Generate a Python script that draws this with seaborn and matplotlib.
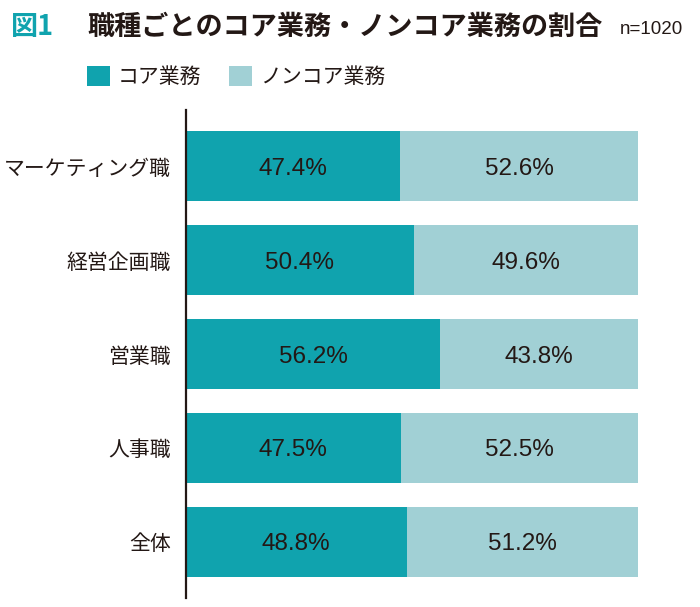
import pandas as pd
import matplotlib
matplotlib.use('Agg')
import matplotlib.pyplot as plt
from matplotlib.patches import Patch
import seaborn as sns

# Data
categories = ['マーケティング職', '経営企画職', '営業職', '人事職', '全体']
core = [47.4, 50.4, 56.2, 47.5, 48.8]
noncore = [52.6, 49.6, 43.8, 52.5, 51.2]
series_names = ['コア業務', 'ノンコア業務']

core_color = '#10A3AE'
noncore_color = '#A1D0D5'

df = pd.DataFrame({'category': categories, 'core': core, 'noncore': noncore})
df['total'] = df['core'] + df['noncore']

sns.set_theme(style='white')
plt.rcParams['font.family'] = ['Noto Sans CJK JP', 'DejaVu Sans']

fig = plt.figure(figsize=(7, 6.07), dpi=100)
ax = fig.add_axes([0.2657, 0.0148, 0.6457, 0.804])

# stacked bars: full length first, core share drawn over it
sns.barplot(data=df, x='total', y='category', orient='h', color=noncore_color,
            width=0.75, saturation=1, linewidth=0, edgecolor='none', ax=ax)
sns.barplot(data=df, x='core', y='category', orient='h', color=core_color,
            width=0.75, saturation=1, linewidth=0, edgecolor='none', ax=ax)

num_font = ['Liberation Sans', 'DejaVu Sans']
for i, (c, n) in enumerate(zip(df['core'], df['noncore'])):
    ax.text(c / 2, i, f'{c:.1f}%', ha='center', va='center_baseline', fontsize=17.5,
            color='#231815', family=num_font)
    ax.text(c + n / 2, i, f'{n:.1f}%', ha='center', va='center_baseline', fontsize=17.5,
            color='#231815', family=num_font)

ax.set_xlim(0, 100)
ax.set_ylim(4.6, -0.6)
ax.set_xlabel('')
ax.set_ylabel('')
ax.set_xticks([])
ax.tick_params(axis='y', length=0, pad=11, labelsize=15, labelcolor='#231815')
for side in ['top', 'right', 'bottom']:
    ax.spines[side].set_visible(False)
ax.spines['left'].set_color('#231815')
ax.spines['left'].set_linewidth(1.6)

# title
fig.text(0.015, 0.955, '図1', fontsize=19.5, fontweight='bold', color=core_color,
         va='center', ha='left')
fig.text(0.125, 0.955, '職種ごとのコア業務・ノンコア業務の割合', fontsize=19.5,
         fontweight='bold', color='#231815', va='center', ha='left')
fig.text(0.886, 0.951, 'n=1020', fontsize=13.5, color='#231815', va='center',
         ha='left', family=num_font)

# legend
handles = [Patch(facecolor=core_color, edgecolor='none'),
           Patch(facecolor=noncore_color, edgecolor='none')]
fig.legend(handles, series_names, loc='center left', bbox_to_anchor=(0.124, 0.873),
           ncol=2, frameon=False, fontsize=15, handlelength=1.1, handleheight=1.1,
           handletextpad=0.4, columnspacing=1.3, borderaxespad=0, borderpad=0,
           labelcolor='#231815')

fig.savefig('out.png', dpi=100)
